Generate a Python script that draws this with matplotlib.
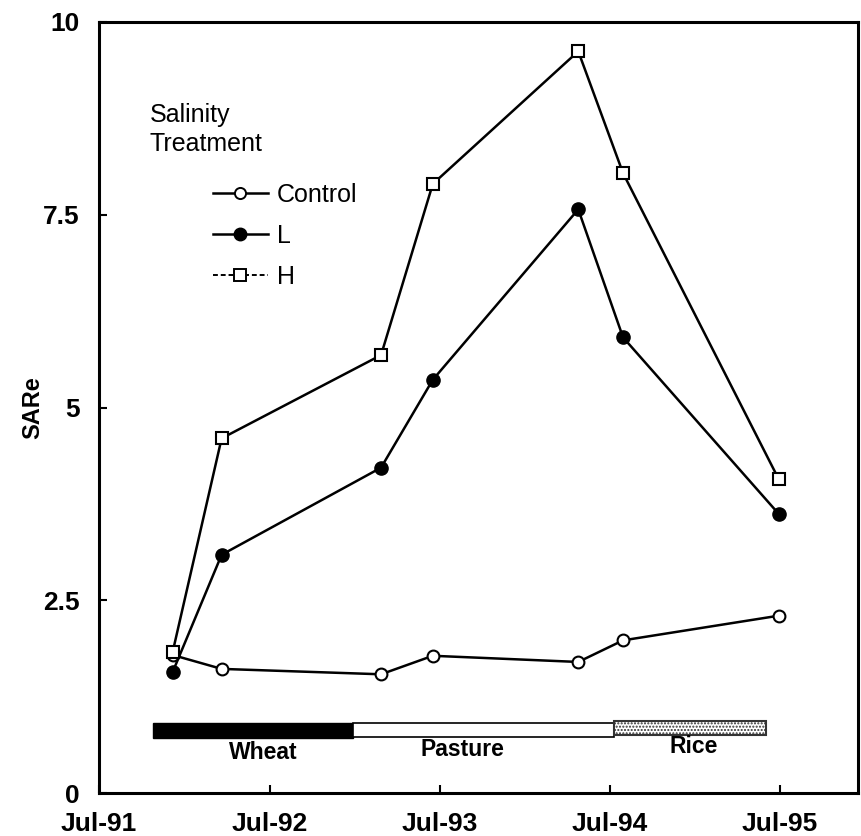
import pandas as pd
import matplotlib
matplotlib.use('Agg')
from matplotlib import pyplot as plt
from matplotlib import dates as mdates
from matplotlib.lines import Line2D

plt.rcParams['font.family'] = ['Liberation Sans', 'DejaVu Sans']

# sampling dates and SARe by salinity treatment
dates = pd.to_datetime(['1991-12-06', '1992-03-20', '1993-02-25', '1993-06-16',
                        '1994-04-24', '1994-07-29', '1995-06-28'])
control = [1.79, 1.61, 1.54, 1.78, 1.70, 1.98, 2.30]
low = [1.57, 3.09, 4.22, 5.36, 7.57, 5.91, 3.62]
high = [1.83, 4.60, 5.68, 7.90, 9.62, 8.04, 4.07]

# crop sequence bar
crops = ['Wheat', 'Pasture', 'Rice']
crop_start = pd.to_datetime(['1991-10-25', '1992-12-27', '1994-07-10'])
crop_end = pd.to_datetime(['1992-12-27', '1994-07-10', '1995-06-01'])

fig = plt.figure(figsize=(8.61, 8.36), dpi=100)
ax = fig.add_axes([0.115, 0.0514, 0.8815, 0.9223])

ax.plot(dates, control, color='black', lw=1.8, marker='o', ms=8.5,
        mfc='white', mec='black', mew=1.5, zorder=3)
ax.plot(dates, low, color='black', lw=1.8, marker='o', ms=9.5,
        mfc='black', mec='black', zorder=3)
ax.plot(dates, high, color='black', lw=1.8, marker='s', ms=8.5,
        mfc='white', mec='black', mew=1.5, zorder=3)

# crop bars along the bottom
bar_y = 0.71
bar_h = 0.2
ax.barh(bar_y, crop_end[0] - crop_start[0], left=crop_start[0], height=bar_h,
        align='edge', color='black', edgecolor='black', lw=1)
ax.barh(bar_y + 0.02, crop_end[1] - crop_start[1], left=crop_start[1],
        height=bar_h - 0.02, align='edge', color='white', edgecolor='black', lw=1.2)
ax.barh(bar_y + 0.04, crop_end[2] - crop_start[2], left=crop_start[2],
        height=bar_h - 0.02, align='edge', color='white', edgecolor='#333333',
        hatch='.....', lw=1.5)

label_x = pd.to_datetime(['1992-06-18', '1993-08-18', '1994-12-28'])
label_y = [0.53, 0.57, 0.6]
for name, lx, ly in zip(crops, label_x, label_y):
    ax.text(lx, ly, name, ha='center', va='center', fontsize=16.5,
            fontweight='bold')

ax.set_ylim(0, 10)
ax.set_yticks([0, 2.5, 5, 7.5, 10])
ax.set_yticklabels(['0', '2.5', '5', '7.5', '10'])
ax.set_xlim(pd.Timestamp('1991-07-01'), pd.Timestamp('1995-12-15'))
ticks = pd.to_datetime(['1991-07-01', '1992-07-01', '1993-07-01',
                        '1994-07-01', '1995-07-01'])
ax.set_xticks(ticks)
ax.xaxis.set_major_formatter(mdates.DateFormatter('%b-%y'))
ax.tick_params(direction='in', length=6, width=1.5, labelsize=19)
ax.tick_params(axis='x', pad=14)
ax.tick_params(axis='y', pad=14)
for lab in ax.get_xticklabels() + ax.get_yticklabels():
    lab.set_fontweight('bold')
for sp in ax.spines.values():
    sp.set_linewidth(2.2)

ax.set_ylabel('SARe', fontsize=17, fontweight='bold')
ax.yaxis.set_label_coords(-0.072, 0.5)

# legend
ax.text(0.067, 0.861, 'Salinity\nTreatment', transform=ax.transAxes,
        ha='left', va='center', fontsize=18, linespacing=1.25)
handles = [
    Line2D([], [], color='black', lw=1.8, marker='o', ms=8, mfc='white', mew=1.4),
    Line2D([], [], color='black', lw=1.8, marker='o', ms=9, mfc='black'),
    Line2D([], [], color='black', lw=1.4, ls=(0, (2.5, 1.5)), marker='s', ms=8,
           mfc='white', mew=1.4),
]
ax.legend(handles, ['Control', 'L', 'H'], loc='upper left',
          bbox_to_anchor=(0.150, 0.791), frameon=False, fontsize=18,
          borderpad=0, borderaxespad=0, handlelength=2.2,
          handletextpad=0.35, labelspacing=0.68)

fig.savefig('out.png', dpi=100)
